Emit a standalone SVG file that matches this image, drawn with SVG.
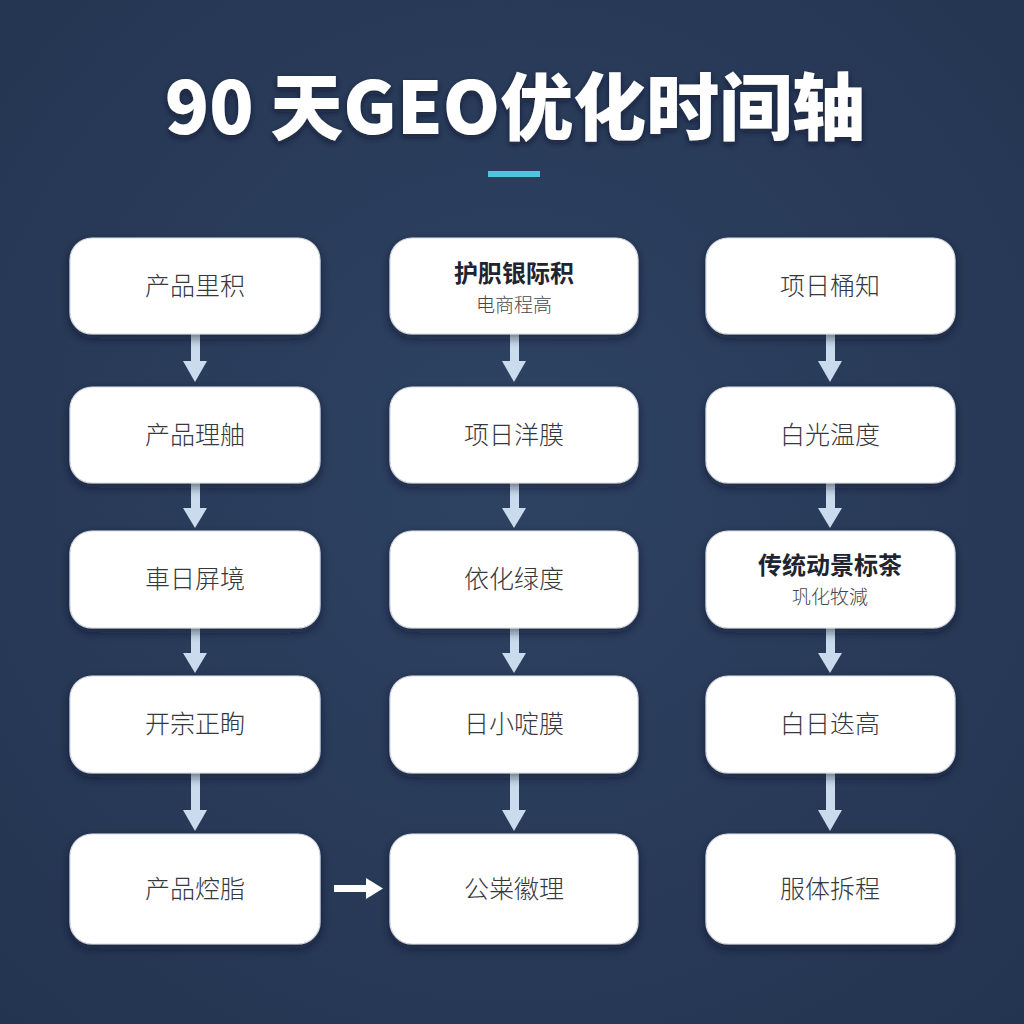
<svg xmlns="http://www.w3.org/2000/svg" width="1024" height="1024" viewBox="0 0 1024 1024">
<defs>
<radialGradient id="bg" cx="50%" cy="45%" r="75%">
<stop offset="0" stop-color="#2e4262"/>
<stop offset="1" stop-color="#233450"/>
</radialGradient>
<filter id="sh" x="-20%" y="-20%" width="140%" height="150%">
<feDropShadow dx="0" dy="4" stdDeviation="5" flood-color="#0a1426" flood-opacity="0.55"/>
</filter>
<filter id="tsh" x="-10%" y="-20%" width="120%" height="150%">
<feDropShadow dx="0" dy="3" stdDeviation="3" flood-color="#0a1426" flood-opacity="0.6"/>
</filter>
</defs>
<style>
.box{fill:#ffffff;stroke:#d6dce4;stroke-width:1.2;filter:url(#sh)}
.lbl{font-family:"Noto Sans CJK SC","Noto Sans",sans-serif;font-size:25px;font-weight:300;fill:#35383d;text-anchor:middle}
.ttl{font-family:"Noto Sans CJK SC","Noto Sans",sans-serif;font-size:24px;font-weight:700;fill:#1f2430;text-anchor:middle}
.sub{font-family:"Noto Sans CJK SC","Noto Sans",sans-serif;font-size:19px;font-weight:300;fill:#44474d;text-anchor:middle}
.sh{fill:#c9dbec}
</style>
<rect width="1024" height="1024" fill="url(#bg)"/>
<text x="515" y="134" font-family="'Noto Sans CJK SC','Noto Sans',sans-serif" font-size="73" font-weight="900" fill="#ffffff" text-anchor="middle" filter="url(#tsh)">90 天GEO优化时间轴</text>
<rect x="488" y="171" width="52" height="6" fill="#4fc6df"/>

<g id="connectors">
<rect class="sh" x="191" y="333" width="9" height="30"/><path class="sh" d="M183 361 L207 361 L195 382 Z"/>
<rect class="sh" x="191" y="482" width="9" height="28"/><path class="sh" d="M183 508 L207 508 L195 528 Z"/>
<rect class="sh" x="191" y="627" width="9" height="28"/><path class="sh" d="M183 653 L207 653 L195 673 Z"/>
<rect class="sh" x="191" y="772" width="9" height="40"/><path class="sh" d="M183 810 L207 810 L195 831 Z"/>
<rect class="sh" x="510" y="333" width="9" height="30"/><path class="sh" d="M502 361 L526 361 L514 382 Z"/>
<rect class="sh" x="510" y="482" width="9" height="28"/><path class="sh" d="M502 508 L526 508 L514 528 Z"/>
<rect class="sh" x="510" y="627" width="9" height="28"/><path class="sh" d="M502 653 L526 653 L514 673 Z"/>
<rect class="sh" x="510" y="772" width="9" height="40"/><path class="sh" d="M502 810 L526 810 L514 831 Z"/>
<rect class="sh" x="826" y="333" width="9" height="30"/><path class="sh" d="M818 361 L842 361 L830 382 Z"/>
<rect class="sh" x="826" y="482" width="9" height="28"/><path class="sh" d="M818 508 L842 508 L830 528 Z"/>
<rect class="sh" x="826" y="627" width="9" height="28"/><path class="sh" d="M818 653 L842 653 L830 673 Z"/>
<rect class="sh" x="826" y="772" width="9" height="40"/><path class="sh" d="M818 810 L842 810 L830 831 Z"/>
<rect x="334" y="885" width="34" height="7" fill="#ffffff"/><path d="M366 878 L383 888.5 L366 899 Z" fill="#ffffff"/>
</g>

<g id="n11"><rect class="box" x="70" y="238" width="250" height="96" rx="22"/><text class="lbl" x="195" y="295">产品里积</text></g>
<g id="n12"><rect class="box" x="70" y="387" width="250" height="96" rx="22"/><text class="lbl" x="195" y="444">产品理舳</text></g>
<g id="n13"><rect class="box" x="70" y="531" width="250" height="97" rx="22"/><text class="lbl" x="195" y="588">車日屏境</text></g>
<g id="n14"><rect class="box" x="70" y="676" width="250" height="97" rx="22"/><text class="lbl" x="195" y="733">开宗正眴</text></g>
<g id="n15"><rect class="box" x="70" y="834" width="250" height="110" rx="22"/><text class="lbl" x="195" y="898">产品焢脂</text></g>

<g id="n21"><rect class="box" x="390" y="238" width="248" height="96" rx="22"/><text class="ttl" x="514" y="282">护胑银际积</text><text class="sub" x="514" y="312">电商程高</text></g>
<g id="n22"><rect class="box" x="390" y="387" width="248" height="96" rx="22"/><text class="lbl" x="514" y="444">项日洋膜</text></g>
<g id="n23"><rect class="box" x="390" y="531" width="248" height="97" rx="22"/><text class="lbl" x="514" y="588">依化绿度</text></g>
<g id="n24"><rect class="box" x="390" y="676" width="248" height="97" rx="22"/><text class="lbl" x="514" y="733">日小啶膜</text></g>
<g id="n25"><rect class="box" x="390" y="834" width="248" height="110" rx="22"/><text class="lbl" x="514" y="898">公粜徽理</text></g>

<g id="n31"><rect class="box" x="706" y="238" width="249" height="96" rx="22"/><text class="lbl" x="830" y="295">项日桶知</text></g>
<g id="n32"><rect class="box" x="706" y="387" width="249" height="96" rx="22"/><text class="lbl" x="830" y="444">白光温度</text></g>
<g id="n33"><rect class="box" x="706" y="531" width="249" height="97" rx="22"/><text class="ttl" x="830" y="574">传统动景标茶</text><text class="sub" x="830" y="604">巩化牧減</text></g>
<g id="n34"><rect class="box" x="706" y="676" width="249" height="97" rx="22"/><text class="lbl" x="830" y="733">白日迭高</text></g>
<g id="n35"><rect class="box" x="706" y="834" width="249" height="110" rx="22"/><text class="lbl" x="830" y="898">服体拆程</text></g>
</svg>
